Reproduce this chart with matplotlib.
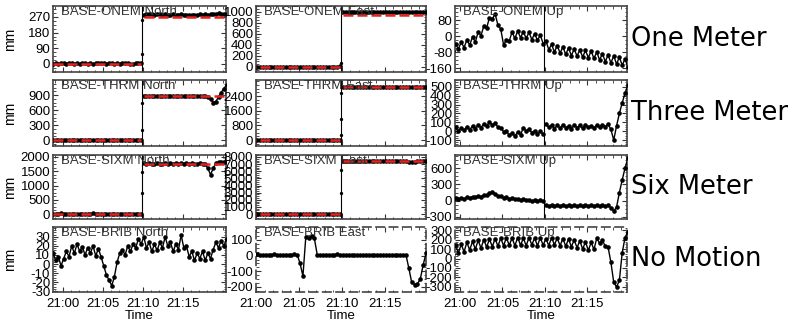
import numpy as np
import matplotlib.pyplot as plt
from matplotlib.ticker import MultipleLocator, AutoMinorLocator

plt.rcParams['font.family'] = ['Liberation Sans', 'DejaVu Sans']
plt.rcParams['axes.unicode_minus'] = False

# minutes after 21:00, one sample every 20 s
t = -1.2 + np.arange(66) / 3.0
t_step = 9.9

# displacement series, mm
onem_n = [2, 4, 1, 5, 3, 2, 6, 3, 1, 4, 2, 5, 3, 0, 4, 2, 3, 6, 8, 4, 2, 5, 3, 1, 4, 2, 6, 3, 5, 2, -2, 4, 3, 5] + \
         [283, 286, 288, 285, 284, 287, 285, 283, 286, 284, 282, 285, 283, 284, 286, 283, 281, 284, 282, 279,
          283, 285, 284, 286, 283, 285, 288, 286, 290, 287, 289, 286]
onem_e = [2, -3, 1, 4, -2, 0, 3, -1, 2, -4, 1, 3, 0, -2, 2, 5, -1, 0, 3, -3, 1, 2, -2, 4, 0, -1, 3, 1, -3, 2, 0, 4, -2, 10] + \
         [1005, 1002, 1000, 1004, 1006, 1001, 1003, 999, 1002, 1005, 1004, 1000, 1003, 1001, 1006, 1002, 998, 1003,
          1005, 1001, 1004, 1000, 1002, 1006, 1003, 999, 1001, 1004, 1002, 1005, 1003, 1008]
onem_u = [-45, -75, -40, -65, -30, -58, -20, -45, -5, -30, 20, 2, 50, 40, 92, 85, 110, 55, 35, -45,
          -20, -25, 20, -12, 25, -8, 22, -12, 18, -18, 12, -22, 5, -38, -25, -68, -42, -80, -48, -85,
          -55, -92, -60, -98, -65, -100, -70, -105, -72, -108, -75, -112, -80, -120, -88, -128, -95, -134,
          -100, -140, -106, -146, -115, -155, -125, -160]

thrm_n = [3, -5, 2, 6, -3, 1, 4, -2, 5, 0, -4, 3, 7, -1, 2, -6, 4, 1, -3, 5, 2, -2, 6, 0, -4, 3, 1, 5, -1, 2, -3, 4, 0, 6] + \
         [888, 884, 886, 889, 883, 885, 887, 882, 886, 884, 888, 885, 883, 887, 884, 886, 882, 885, 888, 884,
          886, 883, 887, 885, 870, 820, 750, 770, 860, 950, 1030, 1100]
thrm_e = [10, -15, 5, 20, -10, 0, 15, -5, 10, -20, 5, 15, 0, -10, 10, 25, -5, 0, 15, -15, 5, 10, -10, 20, 0, -5, 15, 5,
          -15, 10, 0, 20, -10, 5] + \
         [2895, 2880, 2890, 2900, 2885, 2892, 2888, 2896, 2882, 2890, 2898, 2886, 2893, 2880, 2891, 2897, 2884, 2890,
          2895, 2887, 2892, 2880, 2889, 2896, 2885, 2891, 2894, 2883, 2890, 2898, 2886, 2892]
thrm_u = [40, 5, 45, 0, 40, 10, 50, 15, 60, 30, 70, 40, 85, 55, 105, 75, 90, 45, 40, -5,
          0, -45, -20, -55, -10, -40, 40, 5, 20, -15, 5, -35, 0, -35, 85, 45, 70, 30, 65, 35,
          75, 40, 60, 30, 70, 40, 65, 35, 75, 45, 60, 35, 70, 45, 75, 50, 80, 20, -100, 60,
          200, 320, 430, 520, 560, 580]

sixm_n = [10, -12, 5, 18, -8, 0, 12, -5, 8, -15, 4, 14, 0, -10, 9, 20, -6, 2, 13, -12, 6, 10, -9, 16, 0, -4, 12, 5,
          -14, 8, 0, 17, -8, 6] + \
         [1772, 1765, 1778, 1770, 1768, 1775, 1762, 1771, 1777, 1766, 1773, 1769, 1776, 1764, 1772, 1770, 1779, 1767,
          1774, 1768, 1771, 1776, 1765, 1760, 1600, 1380, 1600, 1780, 1830, 1840, 1825, 1835]
sixm_e = [30, -40, 10, 50, -20, 0, 40, -10, 20, -50, 10, 40, 0, -30, 20, 60, -10, 0, 40, -40, 10, 30, -20, 50, 0, -10,
          40, 10, -40, 20, 0, 50, -20, 10] + \
         [7450, 7430, 7445, 7460, 7425, 7440, 7455, 7435, 7448, 7430, 7452, 7440, 7438, 7456, 7428, 7445, 7450, 7432,
          7447, 7441, 7453, 7436, 7400, 7330, 7300, 7350, 7420, 7450, 7440, 7455, 7435, 7448]
sixm_u = [40, 20, 45, 25, 50, 35, 60, 45, 75, 60, 90, 75, 110, 100, 140, 155, 130, 95, 80, 55,
          60, 40, 45, 25, 30, 15, 25, 5, 15, -5, 10, -10, 5, -15, -85, -100, -80, -95, -85, -100,
          -80, -95, -85, -100, -82, -98, -86, -100, -80, -95, -85, -100, -80, -96, -84, -98, -86, -130, -190, -120,
          150, 380, 600, 780, 810, 830]

brib_n = [12, 4, 8, -2, 6, 14, 8, 20, 12, 22, 14, 19, 10, 18, 12, 20, 9, 17, 8, -2,
          -12, -18, -24, -14, 2, 12, 16, 10, 20, 14, 22, 18, 28, 22, 30, 18, 24, 14, 22, 15,
          24, 18, 30, 20, 24, 14, 22, 16, 32, 18, 20, 8, 14, 4, 12, 6, 14, 4, 12, 6,
          16, 24, 18, 26, 20, 28]
brib_e = [6, 4, 7, 5, 8, 6, 3, 7, 5, 6, 8, 5, 6, 4, 7, 6, 5, 8, 6,
          -50, -130, 120, 115, 125, 110, 5,
          6, 4, 7, 5, 3, 6, 8, 5, 4, 6, 5, 7, 3, 6, 4, 5, 7, 6, 4, 5, 3, 6, 5, 4, 2, 5, 3, 4, 6, 3, 5,
          -80, -170, -185, -180, -150, -60, 15, 20, 18]
brib_u = [130, 50, 140, 60, 150, 70, 170, 90, 180, 100, 190, 110, 200, 120, 205, 125, 210, 130, 215, 135,
          220, 140, 215, 135, 220, 140, 215, 135, 220, 145, 215, 135, 220, 140, 210, 135, 220, 145, 215, 135,
          210, 130, 205, 125, 195, 115, 185, 100, 175, 85, 170, 95, 215, 160, 190, 130, 120, -40, -250, -300,
          -230, 60, 220, 280, 290, 300]

# points caught mid-jump at the step time
onem_n_jump = [60, 250]
onem_e_jump = [70]
thrm_n_jump = [200, 740]
thrm_e_jump = [270, 1150, 2550]
sixm_n_jump = [740, 1470]
sixm_e_jump = [2960, 6200]

# red reference offsets after the step
onem_n_model = 268
onem_e_model = 950
thrm_n_model = 882
thrm_e_model = 2895
sixm_n_model = 1750
sixm_e_model = 7440

row_names = ['One Meter', 'Three Meter', 'Six Meter', 'No Motion']
time_ticks = [0, 5, 10, 15]
time_labels = ['21:00', '21:05', '21:10', '21:15']

# (row, col, title, values, jump, model, ylim, ytick step, ytick min, ytick max)
panels = [
    (0, 0, 'BASE-ONEM North', onem_n, onem_n_jump, onem_n_model, (-46, 333), 90, 0, 270),
    (0, 1, 'BASE-ONEM East', onem_e, onem_e_jump, onem_e_model, (-91, 1109), 200, 0, 1000),
    (0, 2, 'BASE-ONEM Up', onem_u, None, None, (-180, 150), 80, -160, 80),
    (1, 0, 'BASE-THRM North', thrm_n, thrm_n_jump, thrm_n_model, (-120, 1200), 300, 0, 900),
    (1, 1, 'BASE-THRM East', thrm_e, thrm_e_jump, thrm_e_model, (-327, 3273), 800, 0, 2400),
    (1, 2, 'BASE-THRM Up', thrm_u, None, None, (-167, 578), 100, -100, 500),
    (2, 0, 'BASE-SIXM North', sixm_n, sixm_n_jump, sixm_n_model, (-175, 2070), 500, 0, 2000),
    (2, 1, 'BASE-SIXM East', sixm_e, sixm_e_jump, sixm_e_model, (-700, 8280), 1000, 0, 8000),
    (2, 2, 'BASE-SIXM Up', sixm_u, None, None, (-337, 840), 300, -300, 600),
    (3, 0, 'BASE-BRIB North', brib_n, None, None, (-31, 41), 10, -30, 30),
    (3, 1, 'BASE-BRIB East', brib_e, None, None, (-232, 183), 100, -200, 100),
    (3, 2, 'BASE-BRIB Up', brib_u, None, None, (-353, 332), 100, -300, 300),
]

W, H = 792, 326
col_x = [53, 256, 455]
col_w = [173, 170, 172]
col_xlim = [(-1.2, 20.4), (0, 19.8), (-0.6, 19.7)]
row_y = [(6, 72), (80, 146), (155, 219), (227, 292)]

fig = plt.figure(figsize=(W / 100, H / 100), dpi=100)

before = t < t_step
after = ~before
dots = dict(color='black', lw=1.0, marker='o', ms=3.3, mew=0, zorder=3)

for row, col, title, vals, jump, model, ylim, step, lo, hi in panels:
    yt, yb = row_y[row]
    ax = fig.add_axes([col_x[col] / W, 1 - yb / H, col_w[col] / W, (yb - yt) / H])
    vals = np.array(vals, dtype=float)
    if row < 3:
        # break the trace at the step, the vertical rule marks it
        for part in (before, after):
            ax.plot(t[part], vals[part], **dots)
        ax.axvline(t_step, color='black', lw=0.8, zorder=2)
    else:
        ax.plot(t, vals, **dots)
    if jump is not None:
        ax.plot([t_step] * len(jump), jump, 'o', color='black', ms=2.4, mew=0, zorder=3)
        red = dict(color='#e8231f', lw=1.8, linestyle=(0, (4, 1.6)), zorder=4)
        ax.plot(t[before], np.zeros(before.sum()), **red)
        ax.plot(t[after], np.full(after.sum(), model), **red)
    ax.set_xlim(col_xlim[col])
    ax.set_ylim(ylim)
    ax.set_yticks(np.arange(lo, hi + step / 2, step))
    ax.yaxis.set_minor_locator(AutoMinorLocator(4))
    ax.set_xticks(time_ticks)
    ax.xaxis.set_minor_locator(MultipleLocator(1))
    ax.tick_params(which='both', direction='in', top=True, right=True,
                   labelsize=9.5, pad=2, color='#333333')
    ax.tick_params(which='major', length=3.5, width=0.8)
    ax.tick_params(which='minor', length=1.8, width=0.6)
    ax.tick_params(axis='x', pad=4)
    for sp in ax.spines.values():
        sp.set_color('#444444')
        sp.set_linewidth(1.2)
        if row == 3 and col > 0:
            sp.set_linestyle((0, (5, 3)))
    if row == 3:
        ax.set_xticklabels(time_labels)
        ax.set_xlabel('Time', fontsize=9.5, labelpad=0)
    else:
        ax.set_xticklabels([])
    if col == 0:
        ax.set_ylabel('mm', fontsize=10)
        ax.yaxis.set_label_coords(-0.205, 0.5)
    ax.text(0.045, 1.0, title, transform=ax.transAxes, ha='left', va='top',
            fontsize=9.5, color='#333333', zorder=5)

for row, name in enumerate(row_names):
    yt, yb = row_y[row]
    fig.text(631 / W, 1 - (yt + yb) / 2 / H, name, ha='left', va='center',
             fontsize=18.5, family='DejaVu Sans', color='black')

fig.savefig('out.png', dpi=100)
